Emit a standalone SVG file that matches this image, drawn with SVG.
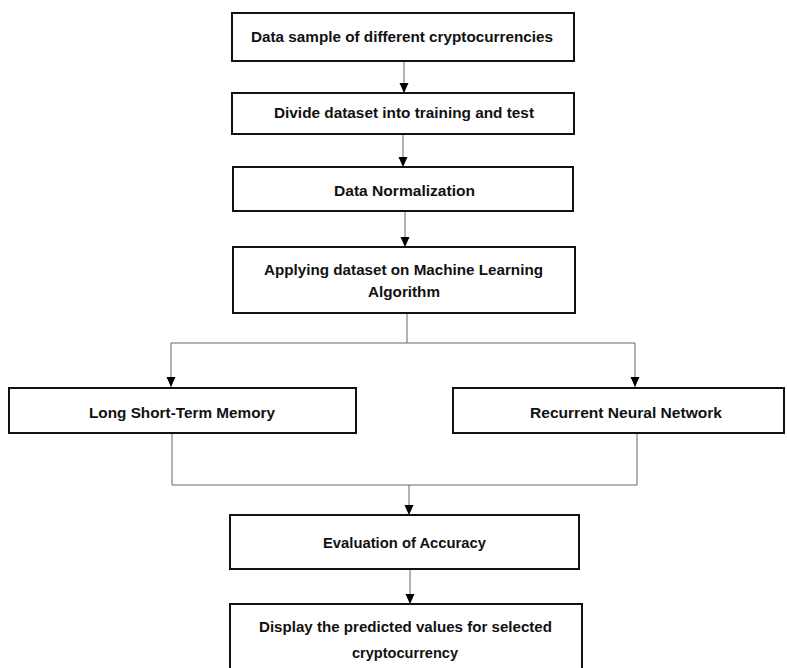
<svg xmlns="http://www.w3.org/2000/svg" width="787" height="668" viewBox="0 0 787 668">
<style>
.box{fill:#fff;stroke:#111;stroke-width:2}
.t{font-family:"Liberation Sans",Arial,sans-serif;font-weight:bold;font-size:15px;fill:#111;text-anchor:middle}
.c{fill:none;stroke:#666;stroke-width:1}
</style>
<defs>
<marker id="ah" markerUnits="userSpaceOnUse" markerWidth="10" markerHeight="11" refX="10" refY="5" orient="auto" viewBox="0 0 10 10">
<path d="M0,0.5 L10,5 L0,9.5 Z" fill="#000"/>
</marker>
</defs>
<g id="connectors">
<line class="c" x1="404" y1="61" x2="404" y2="93" marker-end="url(#ah)"/>
<line class="c" x1="403" y1="134" x2="403" y2="167" marker-end="url(#ah)"/>
<line class="c" x1="405" y1="211" x2="405" y2="247" marker-end="url(#ah)"/>
<polyline class="c" points="407,313 407,343 171,343 171,387" marker-end="url(#ah)"/>
<polyline class="c" points="407,343 635,343 635,387" marker-end="url(#ah)"/>
<polyline class="c" points="172,433 172,485 637,485 637,433"/>
<line class="c" x1="409" y1="485" x2="409" y2="515" marker-end="url(#ah)"/>
<line class="c" x1="410" y1="569" x2="410" y2="604" marker-end="url(#ah)"/>
</g>
<g id="n1">
<rect class="box" x="232" y="13" width="342" height="48"/>
<text class="t" x="402" y="42" textLength="302" lengthAdjust="spacingAndGlyphs">Data sample of different cryptocurrencies</text>
</g>
<g id="n2">
<rect class="box" x="232" y="93" width="342" height="41"/>
<text class="t" x="404" y="118" textLength="260" lengthAdjust="spacingAndGlyphs">Divide dataset into training and test</text>
</g>
<g id="n3">
<rect class="box" x="233" y="167" width="340" height="44"/>
<text class="t" x="404.5" y="196" textLength="141" lengthAdjust="spacingAndGlyphs">Data Normalization</text>
</g>
<g id="n4">
<rect class="box" x="233" y="247" width="342" height="66"/>
<text class="t" x="403.5" y="275" textLength="279" lengthAdjust="spacingAndGlyphs">Applying dataset on Machine Learning</text>
<text class="t" x="404" y="297" textLength="72" lengthAdjust="spacingAndGlyphs">Algorithm</text>
</g>
<g id="n5">
<rect class="box" x="9" y="388" width="347" height="45"/>
<text class="t" x="182" y="418" textLength="186" lengthAdjust="spacingAndGlyphs">Long Short-Term Memory</text>
</g>
<g id="n6">
<rect class="box" x="453" y="388" width="331" height="45"/>
<text class="t" x="626" y="418" textLength="192" lengthAdjust="spacingAndGlyphs">Recurrent Neural Network</text>
</g>
<g id="n7">
<rect class="box" x="230" y="515" width="349" height="54"/>
<text class="t" x="404.5" y="548" textLength="163" lengthAdjust="spacingAndGlyphs">Evaluation of Accuracy</text>
</g>
<g id="n8">
<rect class="box" x="230" y="604" width="352" height="70"/>
<text class="t" x="405.5" y="632" textLength="293" lengthAdjust="spacingAndGlyphs">Display the predicted values for selected</text>
<text class="t" x="405" y="658" textLength="106" lengthAdjust="spacingAndGlyphs">cryptocurrency</text>
</g>
</svg>
